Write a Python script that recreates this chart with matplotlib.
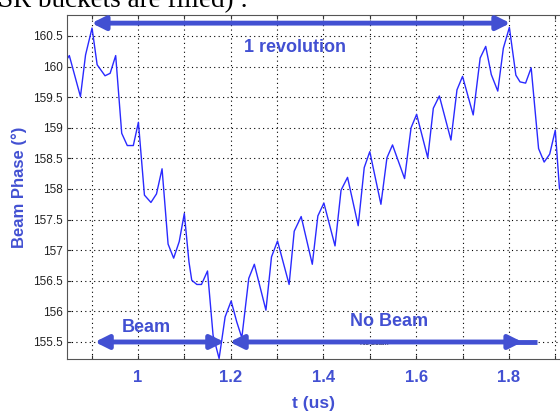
import matplotlib.pyplot as plt

# beam phase trace
t = [0.846, 0.852, 0.876, 0.887, 0.901, 0.912, 0.929, 0.940, 0.952, 0.965,
     0.977, 0.990, 1.001, 1.014, 1.028, 1.040, 1.052, 1.065, 1.077, 1.089,
     1.100, 1.110, 1.116, 1.127, 1.137, 1.150, 1.162, 1.175, 1.188, 1.201,
     1.213, 1.224, 1.239, 1.251, 1.276, 1.288, 1.301, 1.326, 1.337, 1.352,
     1.376, 1.388, 1.401, 1.425, 1.438, 1.452, 1.475, 1.488, 1.500, 1.524,
     1.537, 1.549, 1.575, 1.589, 1.601, 1.625, 1.637, 1.650, 1.675, 1.688,
     1.700, 1.723, 1.738, 1.750, 1.762, 1.776, 1.788, 1.801, 1.815, 1.824,
     1.836, 1.848, 1.864, 1.876, 1.888, 1.900, 1.909, 1.925]
phase = [160.11, 160.18, 159.51, 160.19, 160.63, 160.03, 159.85, 159.89, 160.18, 158.91,
         158.71, 158.71, 159.09, 157.90, 157.78, 157.92, 158.33, 157.10, 156.87, 157.14,
         157.60, 156.81, 156.51, 156.44, 156.44, 156.66, 155.61, 155.23, 155.91, 156.17,
         155.83, 155.57, 156.54, 156.77, 156.02, 156.89, 157.15, 156.44, 157.31, 157.55,
         156.77, 157.56, 157.77, 157.07, 157.98, 158.19, 157.40, 158.35, 158.61, 157.75,
         158.51, 158.72, 158.17, 159.00, 159.22, 158.51, 159.32, 159.52, 158.80, 159.62,
         159.84, 159.21, 160.14, 160.33, 159.87, 159.60, 160.30, 160.64, 159.86, 159.75,
         159.73, 159.98, 158.66, 158.44, 158.57, 158.96, 158.01, 157.80]

xticks = [0.9, 1.0, 1.1, 1.2, 1.3, 1.4, 1.5, 1.6, 1.7, 1.8, 1.9]
xlabels = ['', '1', '', '1.2', '', '1.4', '', '1.6', '', '1.8', '']
yticks = [155.5, 156, 156.5, 157, 157.5, 158, 158.5, 159, 159.5, 160, 160.5]
ylabels = ['155.5', '156', '156.5', '157', '157.5', '158', '158.5', '159', '159.5', '160', '160.5']

blue = '#4250d2'
plt.rcParams['font.family'] = ['Liberation Sans', 'DejaVu Sans']

fig = plt.figure(figsize=(5.6, 4.12), dpi=100)
ax = fig.add_axes([67/560, 53/412, 511/560, 344/412])

ax.plot(t, phase, color='#2a2aff', lw=1)
ax.set_xlim(0.847, 1.949)
ax.set_ylim(155.222, 160.843)

ax.set_xticks(xticks)
ax.set_xticklabels(xlabels, color=blue, fontweight='bold', fontsize=12)
ax.set_yticks(yticks)
ax.set_yticklabels(ylabels, color='#222222', fontsize=8.5)
ax.tick_params(direction='in', top=True, right=True, length=3, color='#333333')
ax.tick_params(axis='x', pad=8)
ax.tick_params(axis='y', pad=3)
ax.grid(True, ls=(0, (1, 3)), color='black', lw=0.8)
for s in ax.spines.values():
    s.set_color('#555555')

ax.set_xlabel('t (us)', color=blue, fontweight='bold', fontsize=12.5)
ax.xaxis.set_label_coords(0.483, -0.108)
ax.set_ylabel('Beam Phase (°)', color=blue, fontweight='bold', fontsize=12)
ax.yaxis.set_label_coords(-0.078, 0.5)

# arrows
arr = dict(arrowstyle='<|-|>', color=blue, lw=3.5, mutation_scale=20, shrinkA=0, shrinkB=0)
ax.annotate('', xy=(1.803, 160.71), xytext=(0.900, 160.71), arrowprops=arr, annotation_clip=False)
ax.annotate('', xy=(1.186, 155.5), xytext=(0.907, 155.5), arrowprops=arr, annotation_clip=False)
ax.plot([1.80, 1.861], [155.5, 155.5], color=blue, lw=3.5, solid_capstyle='butt')
ax.annotate('', xy=(1.829, 155.5), xytext=(1.198, 155.5), arrowprops=arr, annotation_clip=False)

ax.text(1.339, 160.32, '1 revolution', color=blue, fontweight='bold', fontsize=13,
        ha='center', va='center')
ax.text(1.019, 155.73, 'Beam', color=blue, fontweight='bold', fontsize=13,
        ha='center', va='center')
ax.text(1.541, 155.83, 'No Beam', color=blue, fontweight='bold', fontsize=13,
        ha='center', va='center')
ax.text(1.51, 155.47, 'No beam', color='black', fontsize=5, ha='center', va='center', zorder=1)

# cropped line of document text above the figure
fig.text(-0.004, (412 - 7) / 412, 'SR buckets are filled) :', family='Liberation Serif',
         fontsize=19.5, va='baseline', ha='left', color='black')

fig.savefig('out.png', dpi=100)
